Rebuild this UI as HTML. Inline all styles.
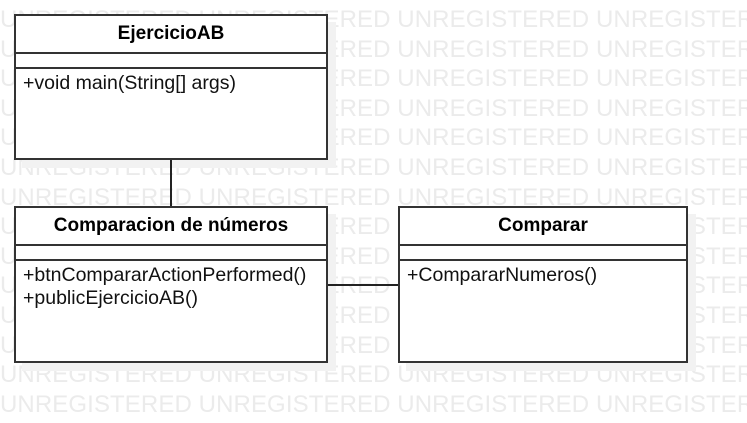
<!DOCTYPE html>
<html><head><meta charset="utf-8"><style>
body{margin:0;width:747px;height:423px;background:#fff;position:relative;overflow:hidden;font-family:"Liberation Sans",Arial,sans-serif}
#w{position:absolute;left:0;top:0;width:747px;height:423px;overflow:hidden}
.wm{position:absolute;left:0;font-size:24px;color:#ebebeb;white-space:nowrap;line-height:30px;letter-spacing:0.1px}
.box{position:absolute;border:2px solid #333;background:#fff;box-sizing:border-box;box-shadow:8px 8px 0 #f2f2f2}
.t{font-weight:bold;font-size:19px;text-align:center;height:38px;line-height:36px;border-bottom:2px solid #333;box-sizing:border-box}
.a{height:15px;border-bottom:2px solid #333;box-sizing:border-box}
.m{font-size:19.5px;padding:3px 0 0 7px;line-height:23px;color:#111}
.ln{position:absolute;background:#222;z-index:5}
</style></head><body>
<div id="w"></div>
<script>
var h='';for(var k=0;k<14;k++){h+='<div class="wm" style="top:'+(5+k*29.6)+'px">UNREGISTERED UNREGISTERED UNREGISTERED UNREGISTERED</div>';}
document.getElementById('w').innerHTML=h;
</script>
<div class="box" style="left:14px;top:14px;width:314px;height:146px">
<div class="t">EjercicioAB</div><div class="a"></div><div class="m">+void main(String[] args)</div></div>
<div class="box" style="left:14px;top:206px;width:314px;height:157px">
<div class="t">Comparacion de números</div><div class="a"></div><div class="m">+btnCompararActionPerformed()<br>+publicEjercicioAB()</div></div>
<div class="box" style="left:398px;top:206px;width:290px;height:157px">
<div class="t">Comparar</div><div class="a"></div><div class="m">+CompararNumeros()</div></div>
<div class="ln" style="left:170px;top:160px;width:2px;height:46px"></div>
<div class="ln" style="left:328px;top:284px;width:70px;height:2px"></div>
</body></html>
